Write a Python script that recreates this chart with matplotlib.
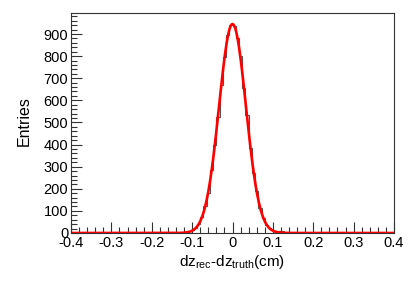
import numpy as np
import matplotlib.pyplot as plt
from matplotlib.ticker import MultipleLocator

plt.rcParams['font.family'] = ['Liberation Sans', 'DejaVu Sans']
plt.rcParams['mathtext.fontset'] = 'custom'
plt.rcParams['mathtext.rm'] = 'Liberation Sans'
plt.rcParams['mathtext.it'] = 'Liberation Sans'

# histogram: 100 bins from -0.4 to 0.4 (cm)
edges = np.linspace(-0.4, 0.4, 101)
# counts, left half (-0.4 .. 0) then right half (0 .. 0.4)
counts_left = [0, 0, 0, 0, 0, 0, 0, 0, 0, 0,
               0, 0, 0, 0, 0, 0, 0, 0, 0, 0,
               0, 0, 0, 0, 0, 0, 0, 1, 0, 0,
               1, 0, 1, 1, 0, 1, 2, 1, 2, 3,
               4, 7, 12, 22, 42, 72, 120, 180, 285, 400,
               525, 670, 795, 897, 941][-50:]
counts_right = [935, 880, 800, 655, 535, 385, 270, 190, 115, 68,
                38, 24, 14, 10, 8, 7, 6, 3, 2, 2,
                1, 2, 1, 0, 1, 1, 0, 0, 1, 0,
                0, 0, 0, 0, 0, 0, 0, 0, 0, 0,
                0, 0, 0, 0, 0, 0, 0, 0, 0, 0]
counts = np.array(counts_left + counts_right)

# gaussian fit parameters
fit_const = 945.0
fit_mean = 0.0
fit_sigma = 0.0333

fig = plt.figure(figsize=(4.15, 2.81), dpi=100)
ax = fig.add_axes([71/415, 1-233/281, (394-71)/415, (233-13)/281])

ax.stairs(counts, edges, color='#555555', lw=0.8)
xf = np.linspace(-0.4, 0.4, 800)
ax.plot(xf, fit_const*np.exp(-0.5*((xf-fit_mean)/fit_sigma)**2), color='red', lw=1.9)

ax.set_xlim(-0.4, 0.4)
ax.set_ylim(0, 995)
ax.xaxis.set_minor_locator(MultipleLocator(0.02))
ax.yaxis.set_major_locator(MultipleLocator(100))
ax.yaxis.set_minor_locator(MultipleLocator(20))
ax.set_xticks(np.arange(-0.4, 0.41, 0.1))
ax.set_xticklabels(['-0.4', '-0.3', '-0.2', '-0.1', '0', '0.1', '0.2', '0.3', '0.4'])
ax.tick_params(which='both', direction='in', labelsize=10.5, color='#333333')
ax.tick_params(which='major', length=8, width=0.8)
ax.tick_params(which='minor', length=4, width=0.8)
ax.tick_params(axis='x', pad=2)
ax.tick_params(axis='y', pad=2)
for s in ax.spines.values():
    s.set_color('#333333')
    s.set_linewidth(0.8)

ax.set_xlabel(r'dz$_{\mathrm{rec}}$-dz$_{\mathrm{truth}}$(cm)', fontsize=11, labelpad=2)
ax.set_ylabel('Entries', fontsize=11.5)
ax.yaxis.set_label_coords(-0.12, 0.51)

fig.savefig('out.png', dpi=100)
